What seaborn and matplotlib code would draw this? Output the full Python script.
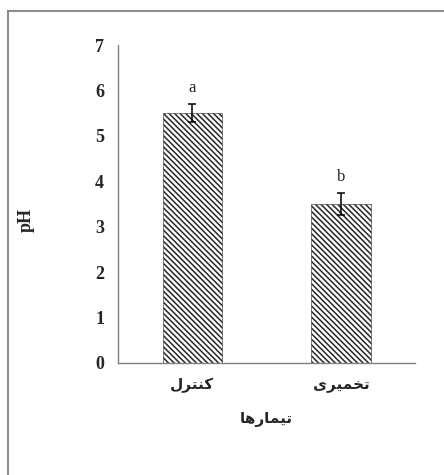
import numpy as np
import pandas as pd
import matplotlib
matplotlib.use("Agg")
import matplotlib.pyplot as plt
import seaborn as sns
from matplotlib.patches import Rectangle

# Persian labels, written in presentation forms (visual order) since matplotlib does no shaping
treatments = ["\uFEDD\uFEAE\uFE98\uFEE8\uFB90",          # کنترل
              "\uFBFC\uFEAE\uFBFF\uFEE4\uFEA8\uFE97"]    # تخمیری
x_title = "\uFE8E\uFEEB\uFEAD\uFE8E\uFEE4\uFBFF\uFE97"   # تیمارها
ph_mean = [5.5, 3.5]
ph_se = [0.2, 0.25]
letters = ["a", "b"]
yticks = [0, 1, 2, 3, 4, 5, 6, 7]

sns.set_style("white")
plt.rcParams["font.family"] = ["Liberation Serif", "DejaVu Sans"]
plt.rcParams["hatch.color"] = "#262626"
plt.rcParams["hatch.linewidth"] = 1.1

df = pd.DataFrame({"treatment": treatments, "ph": ph_mean})

fig = plt.figure(figsize=(4.44, 4.75), dpi=100)
ax = fig.add_axes([0.266, 0.236, 0.669, 0.669])

sns.barplot(data=df, x="treatment", y="ph", order=treatments, width=0.4,
            color="white", edgecolor="#262626", linewidth=0.4,
            hatch="\\" * 6, errorbar=None, ax=ax)
ax.errorbar(range(len(treatments)), ph_mean, yerr=ph_se, fmt="none",
            ecolor="black", elinewidth=1.1, capsize=3, capthick=1.1)

for i, (m, s, l) in enumerate(zip(ph_mean, ph_se, letters)):
    ax.text(i, m + s + 0.35, l, ha="center", va="center", fontsize=12,
            family="Liberation Serif")

ax.set_xlim(-0.5, 1.5)
ax.set_ylim(0, 7)
ax.set_yticks(yticks)
ax.set_xticks([-0.5, 0.5, 1.5], minor=True)
ax.tick_params(axis="x", which="major", length=0, pad=11)
ax.tick_params(axis="x", which="minor", direction="in", length=4, color="#808080")
ax.tick_params(axis="y", direction="in", length=4, color="#808080", pad=10)
for lab in ax.get_yticklabels():
    lab.set_fontweight("bold"); lab.set_fontsize(13)
for lab in ax.get_xticklabels():
    lab.set_family("DejaVu Sans"); lab.set_fontweight("bold"); lab.set_fontsize(11)

for side in ["top", "right"]:
    ax.spines[side].set_visible(False)
for side in ["left", "bottom"]:
    ax.spines[side].set_color("#808080")
    ax.spines[side].set_linewidth(1.0)

ax.set_ylabel("pH", fontsize=13, fontweight="bold")
ax.yaxis.set_label_coords(-0.28, 0.45)
ax.set_xlabel(x_title, fontsize=11, fontweight="bold", family="DejaVu Sans")
ax.xaxis.set_label_coords(0.5, -0.155)

# outer frame of the original picture (top and left edges only visible)
fig.add_artist(Rectangle((8 / 444, -0.1), 1.2, 1.1 - 11 / 475, transform=fig.transFigure,
                         fill=False, edgecolor="#8c8c8c", linewidth=1.5, clip_on=False))

fig.savefig("out.png", dpi=100)
